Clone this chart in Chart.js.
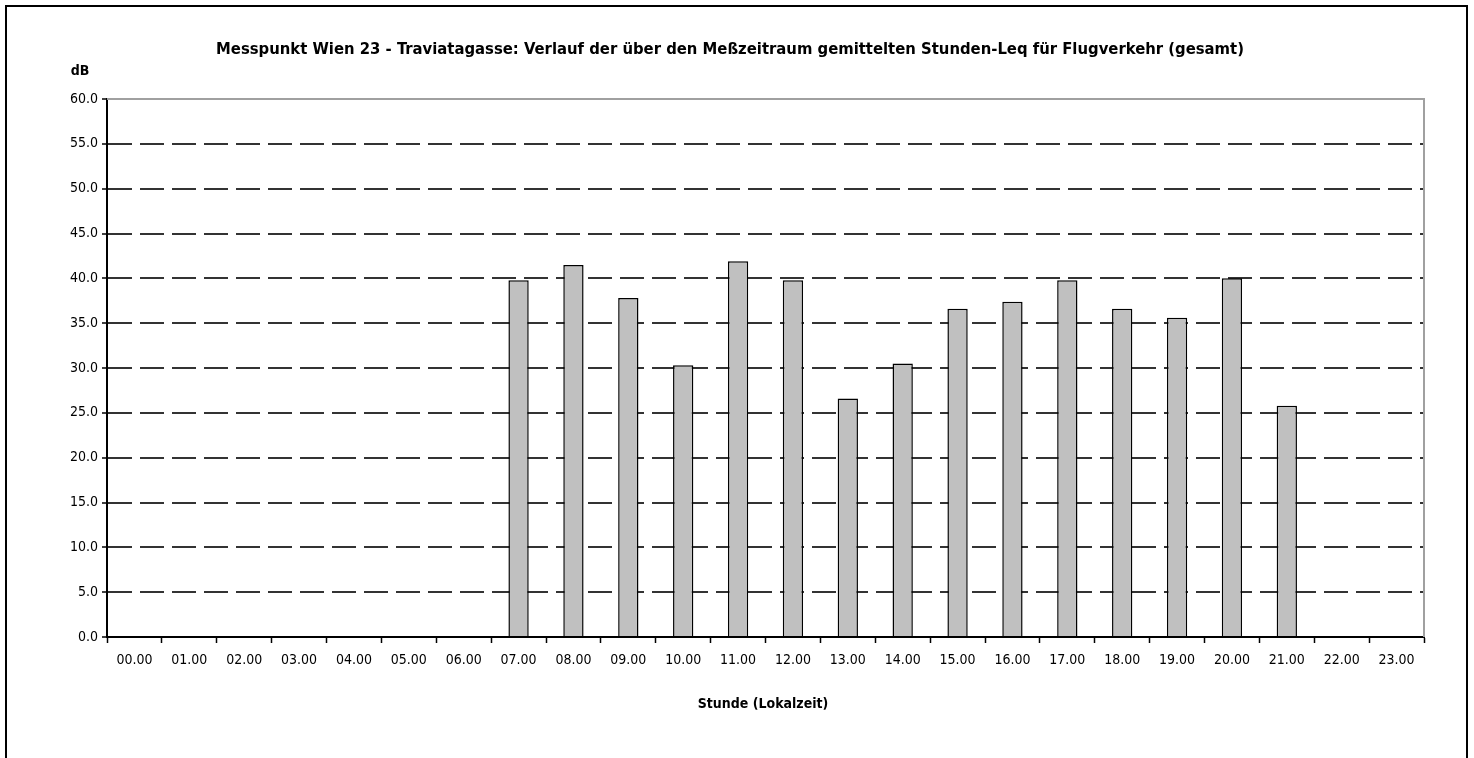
<!DOCTYPE html>
<html lang="de">
<head>
    <meta charset="UTF-8">
    <title>Messpunkt Wien 23 - Traviatagasse</title>
    <script src="https://cdn.jsdelivr.net/npm/chart.js@4/dist/chart.umd.min.js"></script>
    <style>
        html, body { margin: 0; padding: 0; background: #fff; overflow: hidden; }
        .frame {
            position: absolute; left: 5px; top: 5px; width: 1459px; height: 800px;
            border: 2px solid #000; border-bottom: none;
        }
        .chart-box { position: absolute; left: 0; top: 0; width: 1474px; height: 758px; }
    </style>
</head>
<body>
    <div class="frame"></div>
    <div class="chart-box">
        <canvas id="leqChart" width="1474" height="758"></canvas>
    </div>

    <script>
        // Stunden (Lokalzeit) und gemittelte Stunden-Leq in dB
        const hours = ['00.00', '01.00', '02.00', '03.00', '04.00', '05.00', '06.00', '07.00',
                       '08.00', '09.00', '10.00', '11.00', '12.00', '13.00', '14.00', '15.00',
                       '16.00', '17.00', '18.00', '19.00', '20.00', '21.00', '22.00', '23.00'];
        const leqValues = [null, null, null, null, null, null, null, 39.8,
                           41.5, 37.8, 30.3, 41.9, 39.8, 26.6, 30.5, 36.6,
                           37.4, 39.8, 36.6, 35.6, 40.0, 25.8, null, null];
        const yMin = 0;
        const yMax = 60;
        const yStep = 5;

        const titleText = 'Messpunkt Wien 23 - Traviatagasse: Verlauf der über den Meßzeitraum gemittelten Stunden-Leq für Flugverkehr (gesamt)';
        const xTitleText = 'Stunde (Lokalzeit)';
        const yUnitText = 'dB';
        const fontFamily = '"Liberation Sans Narrow", "DejaVu Sans Condensed", "Arial Narrow", sans-serif';

        // Titel, Achsentitel und Rahmen des Diagrammbereichs
        const extrasPlugin = {
            id: 'extras',
            afterDraw(chart) {
                const { ctx, chartArea } = chart;
                ctx.save();
                // grauer Rahmen oben und rechts
                ctx.strokeStyle = '#a0a0a0';
                ctx.lineWidth = 2;
                ctx.setLineDash([]);
                ctx.beginPath();
                ctx.moveTo(chartArea.left, chartArea.top);
                ctx.lineTo(chartArea.right, chartArea.top);
                ctx.lineTo(chartArea.right, chartArea.bottom);
                ctx.stroke();

                ctx.fillStyle = '#000';
                ctx.textBaseline = 'middle';
                ctx.textAlign = 'center';
                ctx.font = 'bold 16.5px ' + fontFamily;
                ctx.fillText(titleText, 730, 50);

                ctx.font = 'bold 14px ' + fontFamily;
                ctx.fillText(yUnitText, 80, 71);
                ctx.fillText(xTitleText, 763, 704);
                ctx.restore();
            }
        };

        const ctx = document.getElementById('leqChart').getContext('2d');
        new Chart(ctx, {
            type: 'bar',
            data: {
                labels: hours,
                datasets: [{
                    data: leqValues,
                    backgroundColor: '#c0c0c0',
                    borderColor: '#000',
                    borderWidth: 1.5,
                    barPercentage: 0.37,
                    categoryPercentage: 1.0
                }]
            },
            options: {
                responsive: false,
                animation: false,
                layout: { padding: { top: 99, right: 50, bottom: 0, left: 0 } },
                plugins: {
                    legend: { display: false },
                    title: { display: false },
                    tooltip: { enabled: false }
                },
                scales: {
                    x: {
                        afterFit(scale) { scale.height = 121; },
                        grid: {
                            offset: true,
                            drawOnChartArea: false,
                            drawTicks: true,
                            tickLength: 6,
                            tickColor: '#000',
                            tickWidth: 1.5
                        },
                        border: { color: '#000', width: 2 },
                        ticks: {
                            color: '#000',
                            padding: 9,
                            maxRotation: 0,
                            autoSkip: false,
                            font: { family: fontFamily, size: 14 }
                        }
                    },
                    y: {
                        min: yMin,
                        max: yMax,
                        afterFit(scale) { scale.width = 107; },
                        grid: {
                            color: (c) => (c.tick && (c.tick.value === yMax || c.tick.value === yMin)) ? 'rgba(0,0,0,0)' : '#333',
                            lineWidth: 2,
                            drawTicks: true,
                            tickLength: 5,
                            tickColor: '#000',
                            tickWidth: 1.5,
                            tickBorderDash: []
                        },
                        border: { color: '#000', width: 2, dash: [24, 8] },
                        ticks: {
                            stepSize: yStep,
                            color: '#000',
                            padding: 4,
                            font: { family: fontFamily, size: 14 },
                            callback: (v) => Number(v).toFixed(1)
                        }
                    }
                }
            },
            plugins: [extrasPlugin]
        });
    </script>
</body>
</html>
